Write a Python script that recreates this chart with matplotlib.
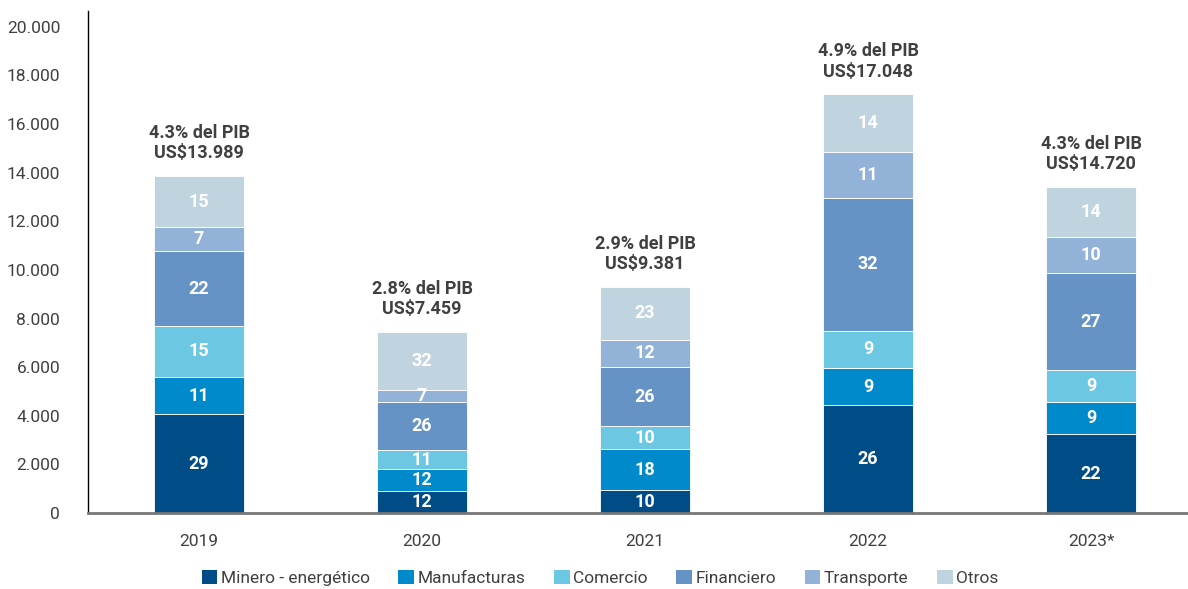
import matplotlib
matplotlib.use("Agg")
import matplotlib.pyplot as plt
import numpy as np
from matplotlib.patches import Patch

plt.rcParams['font.family'] = ['Roboto', 'DejaVu Sans']

years = ["2019", "2020", "2021", "2022", "2023*"]
totals = [13989, 7459, 9381, 17048, 14720]
pib = ["4.3%", "2.8%", "2.9%", "4.9%", "4.3%"]
total_labels = ["US$13.989", "US$7.459", "US$9.381", "US$17.048", "US$14.720"]

sectors = ["Minero - energético", "Manufacturas", "Comercio", "Financiero", "Transporte", "Otros"]
minero = [29, 12, 10, 26, 22]
manufacturas = [11, 12, 18, 9, 9]
comercio = [15, 11, 10, 9, 9]
financiero = [22, 26, 26, 32, 27]
transporte = [7, 7, 12, 11, 10]
otros = [15, 32, 23, 14, 14]
shares = [minero, manufacturas, comercio, financiero, transporte, otros]
colors = ["#004C87", "#008ACC", "#6CC8E2", "#6593C6", "#92B2D8", "#C0D4DF"]

text_color = "#404040"

fig = plt.figure(figsize=(11.88, 5.89), dpi=100)
ax = fig.add_axes([88/1188, 1 - 513/589, 1 - 88/1188, (513 - 11)/589])

x = np.arange(len(years))
tot = np.array(totals, dtype=float)
bottom = np.zeros(len(years))
for name, pct, col in zip(sectors, shares, colors):
    h = tot * np.array(pct) / 100.0
    ax.bar(x, h, bottom=bottom, width=0.40, color=col, edgecolor="white",
           linewidth=0.6, label=name, zorder=2)
    for xi, bi, hi, p in zip(x, bottom, h, pct):
        ax.text(xi, bi + hi / 2, str(p), ha="center", va="center",
                color="white", fontsize=13, fontweight="bold", zorder=3)
    bottom += h

for xi, top, p, lab in zip(x, bottom, pib, total_labels):
    ax.annotate(f"{p} del PIB\n{lab}", xy=(xi, top), xytext=(0, 10),
                textcoords="offset points", ha="center", va="bottom",
                fontsize=13, fontweight="bold", color=text_color,
                linespacing=1.15)

ax.set_xlim(-0.498, 4.435)
ax.set_ylim(0, 20650)
ax.set_yticks(np.arange(0, 20001, 2000))
ax.set_yticklabels([f"{v:,}".replace(",", ".") for v in range(0, 20001, 2000)])
ax.set_xticks(x)
ax.set_xticklabels(years)
ax.tick_params(axis="both", length=0, labelsize=12.5, colors=text_color)
ax.tick_params(axis="y", pad=20)
ax.tick_params(axis="x", pad=15)

for s in ["top", "right"]:
    ax.spines[s].set_visible(False)
ax.spines["left"].set_color("black")
ax.spines["left"].set_linewidth(1.0)
ax.spines["bottom"].set_color("#777777")
ax.spines["bottom"].set_linewidth(2.0)

handles = [Patch(facecolor=c, edgecolor="none") for c in colors]
fig.legend(handles, sectors, loc="center", bbox_to_anchor=(600/1188, 1 - 578/589),
           ncol=6, frameon=False, fontsize=12.5, handlelength=0.9, handleheight=0.9,
           handletextpad=0.2, columnspacing=1.65, labelcolor=text_color)

fig.savefig("out.png", dpi=100)
